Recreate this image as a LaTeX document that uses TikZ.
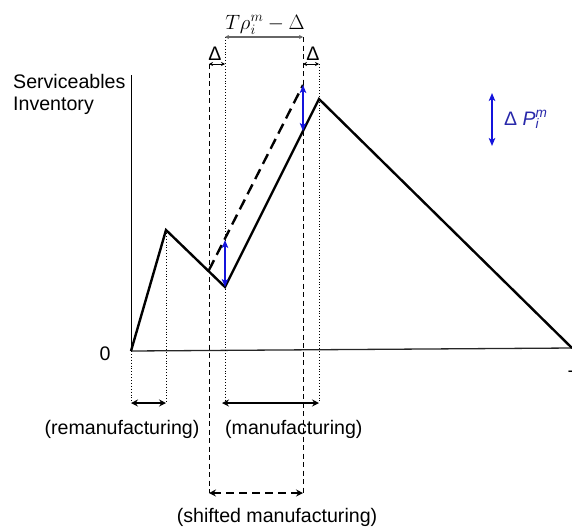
\documentclass[tikz,border=0pt]{standalone}
\usepackage{fontspec}
\setmainfont{Liberation Sans}
\usetikzlibrary{arrows.meta}
\definecolor{dpblue}{RGB}{20,20,220}
\definecolor{dptext}{RGB}{40,40,170}
\tikzset{
  saw/.style={line width=2.4pt, line join=miter},
  sawdash/.style={line width=2.4pt, dash pattern=on 11pt off 6pt},
  vaxis/.style={line width=1pt},
  haxis/.style={line width=1.3pt, black!85},
  guidedash/.style={line width=0.9pt, dash pattern=on 5pt off 3.5pt},
  guidedot/.style={line width=0.9pt, dotted},
  bluearr/.style={line width=2.3pt, dpblue, {Stealth[length=8pt,width=6.5pt,inset=2pt]}-{Stealth[length=8pt,width=6.5pt,inset=2pt]}},
  spanarr/.style={line width=2pt, {Stealth[length=7pt,width=7pt,inset=2.5pt]}-{Stealth[length=7pt,width=7pt,inset=2.5pt]}},
  shiftarr/.style={line width=2pt, dash pattern=on 8pt off 5pt, {Stealth[length=7pt,width=7pt,inset=2.5pt]}-{Stealth[length=7pt,width=7pt,inset=2.5pt]}},
  toparr/.style={line width=1.5pt, black!60, {Stealth[length=4pt,width=4pt]}-{Stealth[length=4pt,width=4pt]}},
  delarr/.style={line width=0.8pt, {Stealth[length=4pt,width=4pt]}-{Stealth[length=4pt,width=4pt]}},
  lbl/.style={inner sep=0pt, font=\fontsize{19.6}{22}\selectfont},
}
\begin{document}
\begin{tikzpicture}[x=1pt,y=-1pt]
\useasboundingbox (0,0) rectangle (572,528);
% key points
\coordinate (O) at (131,351);
\coordinate (P1) at (166,230);
\coordinate (V1) at (225,287);
\coordinate (P2) at (319,99);
\coordinate (E) at (572,348);
\coordinate (D0) at (209,270);
\coordinate (D1) at (303,85);
\coordinate (Ytop) at (131,75);
% axes
\draw[vaxis] (O) -- (Ytop);
\draw[haxis] (O) -- (E);
% guide lines
\coordinate (gO) at (131,403);
\coordinate (gP1) at (166,403);
\coordinate (tV1) at (225,37);
\coordinate (gV1) at (225,403);
\coordinate (tP2) at (319,64);
\coordinate (gP2) at (319,403);
\coordinate (tL) at (209,64);
\coordinate (bL) at (209,493);
\coordinate (tR) at (303,37);
\coordinate (bR) at (303,493);
\draw[guidedot] (O) -- (gO);
\draw[guidedot] (P1) -- (gP1);
\draw[guidedot] (tV1) -- (gV1);
\draw[guidedot] (tP2) -- (gP2);
\draw[guidedash] (tL) -- (bL);
\draw[guidedash] (tR) -- (bR);
% inventory curves
\draw[sawdash] (D0) -- (D1);
\draw[saw] (O) -- (P1) -- (V1) -- (P2) -- (E);
% blue shift arrows
\coordinate (bA) at (225,240);
\coordinate (bB) at (303,131);
\draw[bluearr] (V1) -- (bA);
\draw[bluearr] (D1) -- (bB);
% legend
\coordinate (lgA) at (492,93);
\coordinate (lgB) at (492,146);
\draw[bluearr] (lgA) -- (lgB);
\node[lbl, anchor=base west, text=dptext, font=\fontsize{19.5}{22}\selectfont] (leg) at (504,125) {Δ \textit{P}\rlap{\textsubscript{\textit{i}}}\textsuperscript{\textit{m}}};
% top dimension arrows
\draw[toparr] (tV1) -- (tR);
\node[lbl, anchor=base] (tlab) at (265,29) {\fontsize{20}{22}\selectfont$T\rho_i^m - \Delta$};
\coordinate (dL1) at (209,64);
\coordinate (dL2) at (225,64);
\coordinate (dR1) at (303,64);
\coordinate (dR2) at (319,64);
\draw[delarr] (dL1) -- (dL2);
\draw[delarr] (dR1) -- (dR2);
\node[lbl, anchor=base] (dlL) at (215,60) {Δ};
\node[lbl, anchor=base] (dlR) at (313,60) {Δ};
% bottom span arrows
\coordinate (rA) at (131,403);
\coordinate (rB) at (166,403);
\coordinate (mA) at (222,403);
\coordinate (mB) at (319,403);
\draw[spanarr] (rA) -- (rB);
\draw[spanarr] (mA) -- (mB);
\draw[shiftarr] (bL) -- (bR);
% labels
\node[lbl, anchor=base west] (sv) at (13,88) {Serviceables};
\node[lbl, anchor=base west] (inv) at (13,110) {Inventory};
\node[lbl, anchor=base] (zero) at (105,360) {0};
\node[lbl, anchor=base west] (tT) at (568,384) {T};
\node[lbl, anchor=base] (rem) at (122,434) {(remanufacturing)};
\node[lbl, anchor=base west] (man) at (225,434) {(manufacturing)};
\node[lbl, anchor=base] (shm) at (277,522) {(shifted manufacturing)};
\end{tikzpicture}
\end{document}
